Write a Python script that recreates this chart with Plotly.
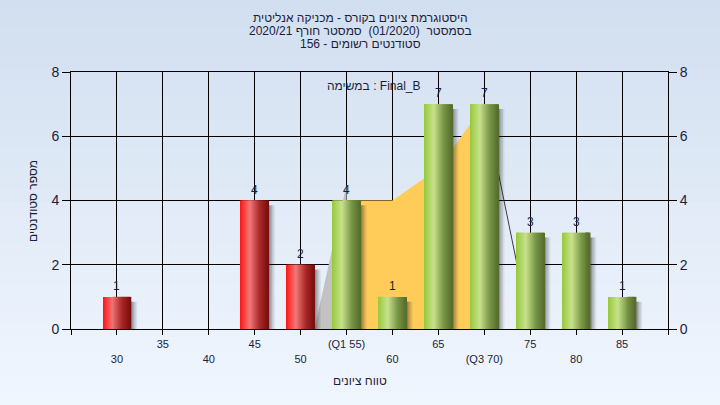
import plotly.graph_objects as go

# ---------------- data ----------------
grades = [30, 35, 40, 45, 50, 55, 60, 65, 70, 75, 80, 85]
counts = [1, 0, 0, 4, 2, 4, 1, 7, 7, 3, 3, 1]
fail_limit = 50  # bars <= this are red
tick_vals = [25, 30, 35, 40, 45, 50, 55, 60, 65, 70, 75, 80, 85, 90]
tick_text = ["", "<br>30", "35", "<br>40", "45", "<br>50", "(Q1 55)", "<br>60",
             "65", "<br>(Q3 70)", "75", "<br>80", "85", ""]
# distribution overlay
side_x = [51.5, 55]
side_y = [0, 4.5]
iqr_x = [55, 60, 65, 70]
iqr_y = [4, 4, 5, 7]
tail_x = [70, 75]
tail_y = [7, 0]

title_lines = ["היסטוגרמת ציונים בקורס - מכניקה אנליטית",
               "בסמסטר  (01/2020)  סמסטר חורף 2020/21",
               "סטודנטים רשומים - 156"]
legend_text = "במשימה : Final_B"
x_title = "טווח ציונים"
y_title = "מספר סטודנטים"

FONT = "Liberation Sans, DejaVu Sans, Arial, sans-serif"
TXT = "#1c1c3c"

# ---------------- figure ----------------
fig = go.Figure()

# background gradient in page margins
nb = 30
top = (210, 223, 240)
bot = (240, 246, 254)
for i in range(nb):
    t = i / (nb - 1)
    c = tuple(round(top[k] + (bot[k] - top[k]) * t) for k in range(3))
    y1 = 1 + 72 / 257 - i * (405 / 257) / nb
    y0 = y1 - (405 / 257) / nb - 0.003
    fig.add_shape(type="rect", xref="paper", yref="paper", x0=-0.2, x1=1.2,
                  y0=y0, y1=y1, fillcolor="rgb(%d,%d,%d)" % c, line_width=0,
                  layer="below")


def area_path(xs, ys):
    p = "M %g,0" % xs[0]
    for x, y in zip(xs, ys):
        p += " L %g,%g" % (x, y)
    p += " L %g,0 Z" % xs[-1]
    return p


# overlay areas (between gridlines and bars)
fig.add_shape(type="path", xref="x", yref="y", path=area_path(side_x, side_y),
              fillcolor="#c2c2c2", line_width=0, layer="between")
fig.add_shape(type="path", xref="x", yref="y", path=area_path(iqr_x, iqr_y),
              fillcolor="#ffcc5a", line_width=0, layer="between")
fig.add_shape(type="line", xref="x", yref="y", x0=tail_x[0], y0=tail_y[0],
              x1=tail_x[1], y1=tail_y[1], line=dict(color="#3a3a3a", width=1),
              layer="between")

W = 3.0  # bar width in grade units

# shadows
shadow_alpha = [0.6, 0.45, 0.3, 0.18, 0.08]
sw = 0.16
for j, a in enumerate(shadow_alpha):
    fig.add_trace(go.Bar(x=grades, y=[max(v - 0.15, 0) for v in counts],
                         width=sw, offset=W / 2 - 0.1 + j * sw,
                         marker=dict(color="rgba(30,30,30,%.2f)" % a, line_width=0),
                         hoverinfo="skip"))


def lerp(c1, c2, t):
    return tuple(round(c1[k] + (c2[k] - c1[k]) * t) for k in range(3))


def grad(stops, t):
    for (t0, c0), (t1, c1) in zip(stops, stops[1:]):
        if t <= t1:
            return lerp(c0, c1, (t - t0) / (t1 - t0) if t1 > t0 else 0)
    return stops[-1][1]


red_stops = [(0, (255, 20, 20)), (0.35, (242, 120, 120)), (0.7, (170, 40, 40)), (1, (120, 15, 15))]
green_stops = [(0, (150, 200, 60)), (0.35, (200, 225, 140)), (0.7, (120, 150, 70)), (1, (85, 108, 45))]

N = 28
for i in range(N):
    t = (i + 0.5) / N
    r = "rgb(%d,%d,%d)" % grad(red_stops, t)
    g = "rgb(%d,%d,%d)" % grad(green_stops, t)
    colors = [r if x <= fail_limit else g for x in grades]
    fig.add_trace(go.Bar(x=grades, y=counts, width=W / N * 1.6,
                         offset=-W / 2 + i * W / N,
                         marker=dict(color=colors, line_width=0),
                         hoverinfo="skip"))

# value labels
for x, v in zip(grades, counts):
    if v > 0:
        fig.add_annotation(x=x, y=v, text=str(v), showarrow=False, yshift=11,
                           xanchor="center", yanchor="middle",
                           font=dict(family=FONT, size=12, color=TXT))

# invisible trace on right axis
fig.add_trace(go.Scatter(x=[25], y=[0], yaxis="y2", mode="markers",
                         marker=dict(opacity=0), hoverinfo="skip"))

fig.update_layout(
    width=720, height=405,
    margin=dict(l=71, r=52, t=72, b=76),
    paper_bgcolor="#e4ecf7",
    plot_bgcolor="#b4b4b4",
    barmode="overlay",
    showlegend=False,
    font=dict(family=FONT, color=TXT),
    xaxis=dict(range=[25, 90], tickvals=tick_vals, ticktext=tick_text,
               showgrid=True, gridcolor="black", gridwidth=1,
               ticks="outside", ticklen=5, tickcolor="black",
               showline=True, linecolor="black", linewidth=1, mirror=True,
               zeroline=False, tickfont=dict(size=11, color=TXT, family=FONT)),
    yaxis=dict(range=[0, 8], dtick=2, showgrid=True, gridcolor="black",
               ticks="outside", ticklen=8, tickcolor="black",
               showline=True, linecolor="black", linewidth=1, mirror=True,
               zeroline=False, tickfont=dict(size=14, color=TXT, family=FONT)),
    yaxis2=dict(range=[0, 8], dtick=2, overlaying="y", side="right",
                showgrid=False, ticks="outside", ticklen=8, tickcolor="black",
                showline=True, linecolor="black", zeroline=False,
                tickfont=dict(size=14, color=TXT, family=FONT)),
)

# title lines
for k, (line, ypx) in enumerate(zip(title_lines, [18, 31, 44])):
    fig.add_annotation(text="\u202b" + line + "\u202c", xref="paper", yref="paper",
                       x=(360 - 71) / 597, y=(329 - ypx) / 257, showarrow=False,
                       xanchor="center", yanchor="middle",
                       font=dict(size=12, color=TXT, family=FONT))

fig.add_annotation(text=legend_text, xref="x", yref="y", x=58, y=7.57,
                   showarrow=False, xanchor="center", yanchor="middle",
                   font=dict(size=12, color=TXT, family=FONT))
fig.add_annotation(text=x_title, xref="paper", yref="paper",
                   x=(360 - 71) / 597, y=(329 - 381) / 257, showarrow=False,
                   xanchor="center", yanchor="middle",
                   font=dict(size=12, color=TXT, family=FONT))
fig.add_annotation(text=y_title, xref="paper", yref="paper",
                   x=(33 - 71) / 597, y=(329 - 201) / 257, showarrow=False,
                   textangle=-90, xanchor="center", yanchor="middle",
                   font=dict(size=12, color=TXT, family=FONT))

fig.write_html("out.html", config={"displayModeBar": False},
               post_script="document.body.style.margin='0';document.body.style.overflow='hidden';")
